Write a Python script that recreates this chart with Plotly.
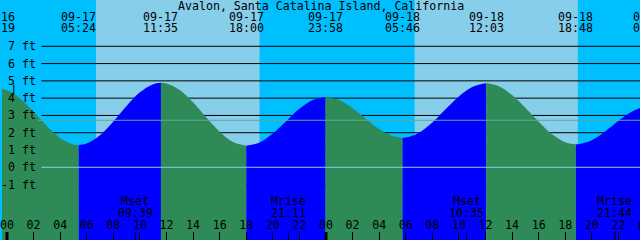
import numpy as np
import pandas as pd
import plotly.graph_objects as go

TITLE = "Avalon, Santa Catalina Island, California"

# Tide height (ft), local time
curve_times = [
    "2024-09-16 23:19", "2024-09-17 00:00", "2024-09-17 01:00", "2024-09-17 02:00",
    "2024-09-17 03:00", "2024-09-17 04:00", "2024-09-17 05:00", "2024-09-17 05:24",
    "2024-09-17 06:00", "2024-09-17 07:00", "2024-09-17 08:00", "2024-09-17 09:00",
    "2024-09-17 10:00", "2024-09-17 11:00", "2024-09-17 11:35", "2024-09-17 12:00",
    "2024-09-17 13:00", "2024-09-17 14:00", "2024-09-17 15:00", "2024-09-17 16:00",
    "2024-09-17 17:00", "2024-09-17 18:00", "2024-09-17 19:00", "2024-09-17 20:00",
    "2024-09-17 21:00", "2024-09-17 22:00", "2024-09-17 23:00", "2024-09-17 23:58",
    "2024-09-18 01:00", "2024-09-18 02:00", "2024-09-18 03:00", "2024-09-18 04:00",
    "2024-09-18 05:00", "2024-09-18 05:46", "2024-09-18 06:00", "2024-09-18 07:00",
    "2024-09-18 08:00", "2024-09-18 09:00", "2024-09-18 10:00", "2024-09-18 11:00",
    "2024-09-18 12:03", "2024-09-18 13:00", "2024-09-18 14:00", "2024-09-18 15:00",
    "2024-09-18 16:00", "2024-09-18 17:00", "2024-09-18 18:00", "2024-09-18 18:48",
    "2024-09-18 19:00", "2024-09-18 20:00", "2024-09-18 21:00", "2024-09-18 22:00",
    "2024-09-18 23:00", "2024-09-19 00:00", "2024-09-19 00:24",
]
curve_ft = [
    4.55, 4.45, 3.97, 3.22,
    2.39, 1.70, 1.32, 1.29,
    1.37, 1.85, 2.65, 3.55,
    4.34, 4.81, 4.89, 4.85,
    4.47, 3.76, 2.88, 2.06,
    1.46, 1.25, 1.44, 1.96,
    2.67, 3.38, 3.89, 4.07,
    3.89, 3.42, 2.81, 2.21,
    1.81, 1.71, 1.72, 2.00,
    2.59, 3.36, 4.10, 4.65,
    4.86, 4.69, 4.18, 3.44,
    2.63, 1.91, 1.45, 1.33,
    1.34, 1.57, 2.07, 2.69,
    3.22, 3.52, 3.55,
]

# High / low tide events (top labels)
extreme_times = ["2024-09-16 23:19", "2024-09-17 05:24", "2024-09-17 11:35",
                 "2024-09-17 18:00", "2024-09-17 23:58", "2024-09-18 05:46",
                 "2024-09-18 12:03", "2024-09-18 18:48", "2024-09-19 00:24"]
extreme_dates = ["09-16", "09-17", "09-17", "09-17", "09-17", "09-18", "09-18", "09-18", "09-19"]
extreme_clock = ["23:19", "05:24", "11:35", "18:00", "23:58", "05:46", "12:03", "18:48", "00:24"]

sunrise_times = ["2024-09-17 06:42", "2024-09-18 06:40"]
sunset_times = ["2024-09-17 19:00", "2024-09-18 18:57"]

moon_times = ["2024-09-17 09:39", "2024-09-17 21:11", "2024-09-18 10:35", "2024-09-18 21:44"]
moon_events = ["Mset", "Mrise", "Mset", "Mrise"]
moon_clock = ["09:39", "21:11", "10:35", "21:44"]

midnights = ["2024-09-17 00:00", "2024-09-18 00:00"]
edge_hour_time = "2024-09-19 00:00"
edge_hour_label = "00"

level_ft = [7, 6, 5, 4, 3, 2, 1, 0, -1]
level_labels = ["7 ft", "6 ft", "5 ft", "4 ft", "3 ft", "2 ft", "1 ft", "0 ft", "-1 ft"]
msl_ft = 2.72
now_time = "2024-09-17 00:31"
now_span_ft = [4.22, 4.78]

X_RANGE = ["2024-09-16 23:37:30", "2024-09-18 23:37:30"]
Y_MIN, Y_MAX = -4.206, 9.678

NIGHT = "#00BFFF"
DAY = "#87CEEB"
RISE = "#0000FF"
FALL = "#2E8B57"
MSL_COLOR = "#5FA896"
FONT = "DejaVu Sans Mono"
FS = 11.6
W, H = 640, 240

xr0, xr1 = pd.to_datetime(X_RANGE[0]), pd.to_datetime(X_RANGE[1])


def xfrac(ts):
    """Position of a time on the x axis as a fraction of the plot width."""
    return (pd.to_datetime(ts) - xr0) / (xr1 - xr0)


fig = go.Figure()

t = pd.to_datetime(curve_times)
ext = pd.to_datetime(extreme_times)
yv = np.array(curve_ft)
for a, b in zip(ext[:-1], ext[1:]):
    m = (t >= a) & (t <= b)
    xs = t[m]
    ys = yv[m]
    color = RISE if ys[-1] > ys[0] else FALL
    fig.add_trace(go.Scatter(x=xs, y=[Y_MIN] * len(xs), mode="lines",
                             line=dict(width=0), hoverinfo="skip", showlegend=False))
    fig.add_trace(go.Scatter(x=xs, y=ys, mode="lines",
                             line=dict(width=0, shape="spline", color=color),
                             fill="tonexty", fillcolor=color,
                             hoverinfo="skip", showlegend=False))

shapes = []
# daylight bands
for sr, ss in zip(sunrise_times, sunset_times):
    shapes.append(dict(type="rect", xref="x", yref="paper", x0=sr, x1=ss, y0=0, y1=1,
                       fillcolor=DAY, line=dict(width=0), layer="below"))
# level lines (behind the water)
for f in level_ft:
    shapes.append(dict(type="line", xref="paper", yref="y", x0=39.5 / W, x1=1, y0=f, y1=f,
                       line=dict(color="black", width=1), layer="below"))
# datum and mean sea level lines (over the water)
shapes.append(dict(type="line", xref="paper", yref="y", x0=39.5 / W, x1=1, y0=0, y1=0,
                   line=dict(color=DAY, width=1), layer="above"))
shapes.append(dict(type="line", xref="paper", yref="y", x0=36 / W, x1=1, y0=msl_ft, y1=msl_ft,
                   line=dict(color=MSL_COLOR, width=1), layer="above"))
# midnight ticks
for mt in midnights:
    shapes.append(dict(type="line", xref="x", yref="paper", x0=mt, x1=mt, y0=0, y1=8 / H,
                       line=dict(color="black", width=3), layer="above"))
# moon event ticks
for mt in moon_times:
    shapes.append(dict(type="line", xref="x", yref="paper", x0=mt, x1=mt, y0=0, y1=8 / H,
                       line=dict(color="black", width=1), layer="above"))
# now mark
shapes.append(dict(type="line", xref="x", yref="y", x0=now_time, x1=now_time,
                   y0=now_span_ft[0], y1=now_span_ft[1],
                   line=dict(color="black", width=1), layer="above"))

ann = []
txt = dict(font=dict(family=FONT, size=FS, color="black"), showarrow=False,
           borderpad=0)
ann.append(dict(text=TITLE, xref="paper", yref="paper", x=0.5, y=1 - 6 / H,
                xanchor="center", yanchor="middle", **txt))
for et, d, c in zip(extreme_times, extreme_dates, extreme_clock):
    ann.append(dict(text=d, xref="paper", yref="paper", x=xfrac(et), y=1 - 17.5 / H,
                    xanchor="center", yanchor="middle", **txt))
    ann.append(dict(text=c, xref="paper", yref="paper", x=xfrac(et), y=1 - 28 / H,
                    xanchor="center", yanchor="middle", **txt))
for mt, ev, c in zip(moon_times, moon_events, moon_clock):
    ann.append(dict(text=ev, xref="x", yref="paper", x=mt, y=1 - 201 / H,
                    xanchor="center", yanchor="middle", **txt))
    ann.append(dict(text=c, xref="x", yref="paper", x=mt, y=1 - 213 / H,
                    xanchor="center", yanchor="middle", **txt))
for f, lab in zip(level_ft, level_labels):
    ann.append(dict(text=lab, xref="paper", yref="y", x=35.5 / W, y=f,
                    xanchor="right", yanchor="middle", **txt))
# hour label just past the right edge (only partly visible)
ann.append(dict(text=edge_hour_label, xref="paper", yref="paper", x=xfrac(edge_hour_time),
                y=1 - 226 / H, xanchor="center", yanchor="middle", **txt))

fig.update_layout(
    width=W, height=H, margin=dict(l=0, r=0, t=0, b=0),
    paper_bgcolor=NIGHT, plot_bgcolor=NIGHT,
    font=dict(family=FONT, size=FS, color="black"),
    shapes=shapes, annotations=ann, showlegend=False,
    xaxis=dict(type="date", range=X_RANGE, tickformat="%H", dtick=7200000,
               tick0=midnights[0], ticks="inside", ticklen=8, tickwidth=1,
               tickcolor="black", ticklabelposition="inside",
               ticklabeloverflow="allow", showgrid=False, zeroline=False,
               showline=False, tickfont=dict(family=FONT, size=FS, color="black"),
               fixedrange=True),
    yaxis=dict(range=[Y_MIN, Y_MAX], visible=False, fixedrange=True),
)

fig.write_html("out.html", config=dict(displayModeBar=False))
